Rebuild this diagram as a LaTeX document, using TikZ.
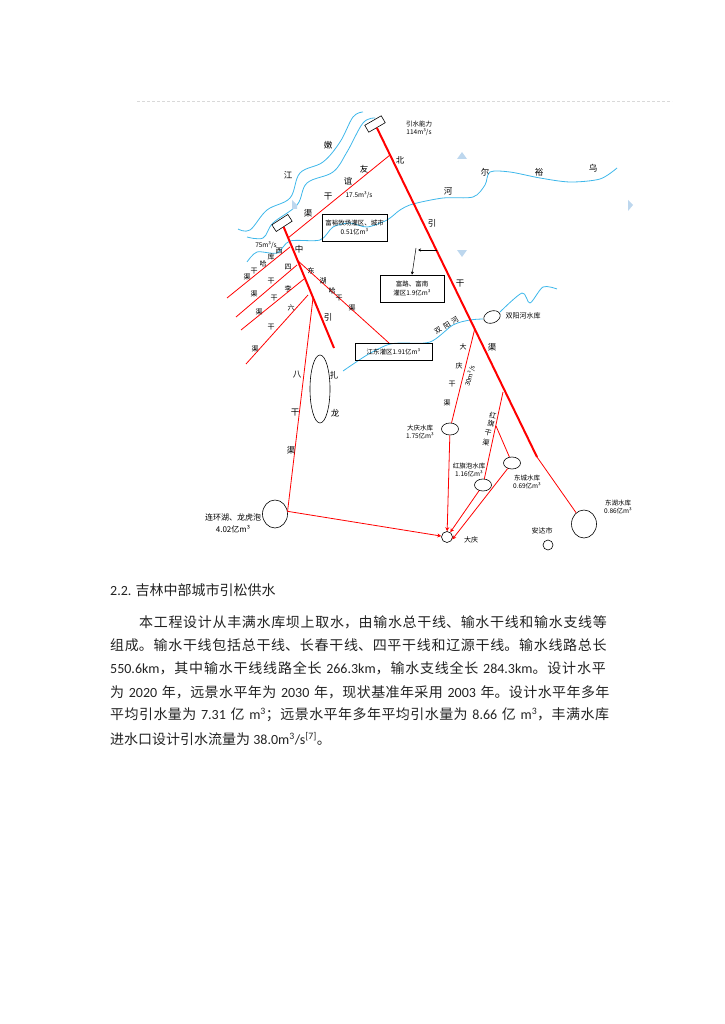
\documentclass[tikz,border=0pt]{standalone}
\usepackage{fontspec}
\setmainfont{Noto Sans CJK SC}
\newfontfamily\latin{Carlito}
\usetikzlibrary{arrows.meta, shapes.geometric}
\XeTeXlinebreaklocale "zh"
\XeTeXlinebreakskip=0pt plus 3pt
\definecolor{canalRed}{HTML}{FF0000}
\definecolor{riverBlue}{HTML}{3DB7EA}
\definecolor{markBlue}{HTML}{BDD7EE}
\definecolor{ruleGray}{HTML}{D9D9D9}
\definecolor{bodyText}{HTML}{222222}
\newcommand{\lat}[1]{{\latin #1}}
\newcommand{\fitline}[1]{\parfillskip=0pt\relax #1\par}
\tikzset{
  canalMain/.style={canalRed, line width=2pt},
  canal/.style={canalRed, line width=0.8pt},
  canalTo/.style={canal, -{Stealth[length=4pt, width=4pt]}},
  river/.style={riverBlue, line width=0.8pt},
  gate/.style={rectangle, draw=black, fill=white, line width=0.6pt, minimum width=19pt, minimum height=8pt, inner sep=0pt},
  pond/.style={ellipse, draw=black, fill=white, line width=0.6pt, inner sep=0pt},
  infoBox/.style={rectangle, draw=black, fill=none, line width=0.7pt, align=center, font=\fontsize{6.5}{8}\selectfont, inner sep=0pt},
  bigLab/.style={font=\fontsize{8.5}{9}\selectfont, inner sep=0pt},
  smallLab/.style={font=\fontsize{6.5}{8}\selectfont, inner sep=0pt, align=center},
  charLab/.style={font=\fontsize{7}{8}\selectfont, inner sep=0pt},
  markTri/.style={fill=markBlue, draw=none},
  bodyLine/.style={anchor=west, inner sep=0pt, font=\fontsize{14}{16}\selectfont, text=bodyText},
}
\begin{document}
\begin{tikzpicture}[x=1pt, y=-1pt]
  \useasboundingbox (0,0) rectangle (724,1024);
  \draw[ruleGray, densely dashed, line width=0.4pt] (137,101) -- (672,101);
  % rivers
  \draw[river] plot[smooth, tension=0.6] coordinates {(363,112) (353,117) (340,142) (323,162) (300,173) (290,198) (267,210) (250,230) (238,229)};
  \draw[river] plot[smooth, tension=0.6] coordinates {(375,118) (363,123) (347,152) (333,172) (307,183) (297,205) (273,223) (263,238) (247,237)};
  \draw[river] plot[smooth, tension=0.5] coordinates {(617,168) (600,179) (570,182) (540,178) (510,172) (490,172) (485,185) (473,197) (443,198) (413,204) (400,210) (387,220) (367,227) (350,223) (333,227) (320,240) (290,241) (277,253) (257,252) (247,262)};
  \draw[river] plot[smooth, tension=0.5] coordinates {(557,289) (543,287) (530,303) (522,293) (500,312)};
  \draw[river] plot[smooth, tension=0.5] coordinates {(483,319) (470,320) (453,325) (430,342) (400,343) (387,345) (367,355) (343,371)};
  % direction marks
  \fill[markTri] (462,152) -- (467,159) -- (457,159) -- cycle;
  \fill[markTri] (462,257) -- (467,250) -- (457,250) -- cycle;
  \fill[markTri] (633,205) -- (628,200) -- (628,211) -- cycle;
  \fill[markTri] (292,200) -- (297,205) -- (297,209) -- (292,209) -- cycle;
  % reservoirs and gates
  \node[gate, rotate=30] (gateN) at (375,124) {};
  \node[gate, rotate=33] (gateS) at (282,223) {};
  \node[pond, minimum width=20pt, minimum height=68pt] (zhalong) at (320,389) {};
  \node[pond, minimum width=25pt, minimum height=28pt] (lianhuan) at (275,514) {};
  \node[pond, minimum width=17pt, minimum height=12pt, rotate=20] (shuangyang) at (492,317) {};
  \node[pond, minimum width=17pt, minimum height=12pt] (dqres) at (450,429) {};
  \node[pond, minimum width=17pt, minimum height=12pt] (hqres) at (483,485) {};
  \node[pond, minimum width=17pt, minimum height=12pt] (dcres) at (512,463) {};
  \node[pond, minimum width=25pt, minimum height=28pt] (dhres) at (584,524) {};
  \node[pond, minimum width=11pt, minimum height=11pt] (daqing) at (447,537) {};
  \node[pond, minimum width=10pt, minimum height=10pt] (anda) at (548,545) {};
  % junctions
  \coordinate (nSplit) at (537,457);
  \coordinate (zEnd) at (334,348);
  \coordinate (yyTop) at (390,155);
  \coordinate (yyEnd) at (288,238);
  \coordinate (xTop) at (290,247);  \coordinate (xEnd) at (227,298);
  \coordinate (sTop) at (297,265);  \coordinate (sEnd) at (236,317);
  \coordinate (lTop) at (304,279);  \coordinate (lEnd) at (241,330);
  \coordinate (kTop) at (308,295);  \coordinate (kEnd) at (246,364);
  \coordinate (dTop) at (297,260);  \coordinate (dEnd) at (389,343);
  \coordinate (bTop) at (313,298);
  \coordinate (dqTop) at (475,328);
  \coordinate (hqTop) at (503,392);
  \coordinate (hqFork) at (496,426);
  \coordinate (fuBr) at (437,250);
  \coordinate (fuTop) at (416,248);
  % canals
  \draw[canalMain] (gateN) -- (nSplit);
  \draw[canalMain] (gateS) -- (zEnd);
  \draw[canal] (nSplit) -- (dhres);
  \draw[canal] (yyTop) -- (yyEnd);
  \draw[canal] (xTop) -- (xEnd);
  \draw[canal] (sTop) -- (sEnd);
  \draw[canal] (lTop) -- (lEnd);
  \draw[canal] (kTop) -- (kEnd);
  \draw[canal] (dTop) -- (dEnd);
  \draw[canal] (bTop) -- (lianhuan.12);
  \draw[canal] (dqTop) -- (dqres);
  \draw[canal] (hqTop) -- (hqres);
  \draw[canal] (hqFork) -- (dcres);
  \draw[canalTo] (lianhuan.12) -- (daqing);
  \draw[canalTo] (dqres) -- (daqing);
  \draw[canalTo] (hqres) -- (daqing);
  \draw[canalTo] (dcres) -- (daqing.-25);
  % benefit areas
  \node[infoBox, minimum width=65pt, minimum height=27pt] (boxFu) at (354.5,227.5) {富裕牧场灌区、城市\\[1pt]0.51亿m³};
  \node[infoBox, minimum width=64pt, minimum height=27pt] (boxLu) at (412,288.5) {富路、富南\\[1pt]灌区1.9亿m³};
  \node[infoBox, minimum width=77pt, minimum height=17pt] (boxJd) at (393.5,351.5) {江东灌区1.91亿m³};
  \draw[-{Stealth[length=3pt, width=3pt]}, line width=0.5pt] (fuBr) -- (418,250);
  \draw[-{Stealth[length=3pt, width=3pt]}, line width=0.5pt] (fuTop) -- (boxLu.north);
  % big labels
  \foreach \px/\py/\txt in {328/145/嫩, 288/175/江, 364/169/友, 348/181/谊, 328/197/干, 308/213/渠,
      400/160/北, 448/191/河, 485/172/尔, 539/172/裕, 593/168/乌, 432/223/引, 460/284/干, 492/347/渠,
      299/249/中, 328/317/引, 297/375/八, 295/413/干, 291/450/渠, 334/375/扎, 335/413/龙}
    \node[bigLab] (big\px) at (\px,\py) {\txt};
  % small labels
  \foreach \px/\py/\txt in {279/251/西, 271/257/库, 263/264/哈, 254/271/干, 247/277/渠,
      288/267/四, 271/281/干, 254/294/渠, 288/289/李, 274/298/干, 259/312/渠,
      291/308/六, 271/327/干, 255/349/渠, 311/271/东, 323/281/湖, 332/291/哈, 339/298/干, 352/308/渠,
      463/347/大, 459/366/庆, 452/384/干, 447/403/渠, 471/540/大庆, 542/531/安达市, 523/316/双阳河水库}
    \node[charLab] (lab\px) at (\px,\py) {\txt};
  \foreach \px/\py/\txt in {438/331/双, 447/325/阳, 455/320/河}
    \node[charLab, rotate=33] (sy\px) at (\px,\py) {\txt};
  \foreach \px/\py/\txt in {493/415/红, 491/424/旗, 488/433/干, 486/443/渠}
    \node[charLab, rotate=-12] (hg\py) at (\px,\py) {\txt};
  \node[smallLab] (rateZ) at (266,245) {75m³/s};
  \node[smallLab] (rateY) at (359,195) {17.5m³/s};
  \node[smallLab, rotate=75] (rateD) at (470,376) {30m³/s};
  \node[smallLab] (cap) at (419,128) {引水能力\\114m³/s};
  \node[smallLab] (capDq) at (420,432) {大庆水库\\1.75亿m³};
  \node[smallLab] (capHq) at (469,470) {红旗泡水库\\1.16亿m³};
  \node[smallLab] (capDc) at (527,482) {东城水库\\0.69亿m³};
  \node[smallLab] (capDh) at (618,507) {东湖水库\\0.86亿m³};
  \node[smallLab, font=\fontsize{8}{12}\selectfont] (capLh) at (233,523.5) {连环湖、龙虎泡\\4.02亿m³};
  % text below
  \node[bodyLine] (head) at (110,590) {\lat{2.2.} 吉林中部城市引松供水};
  \node[bodyLine, text width=474pt] (ln1) at (139,622) {\fitline{本工程设计从丰满水库坝上取水，由输水总干线、输水干线和输水支线等}};
  \node[bodyLine, text width=503pt] (ln2) at (110,645) {\fitline{组成。输水干线包括总干线、长春干线、四平干线和辽源干线。输水线路总长}};
  \node[bodyLine, text width=503pt] (ln3) at (110,668) {\fitline{\lat{550.6km}，其中输水干线线路全长 \lat{266.3km}，输水支线全长 \lat{284.3km}。设计水平}};
  \node[bodyLine, text width=503pt] (ln4) at (110,692) {\fitline{为 \lat{2020} 年，远景水平年为 \lat{2030} 年，现状基准年采用 \lat{2003} 年。设计水平年多年}};
  \node[bodyLine, text width=503pt] (ln5) at (110,715) {\fitline{平均引水量为 \lat{7.31} 亿 \lat{m\textsuperscript{3}}；远景水平年多年平均引水量为 \lat{8.66} 亿 \lat{m\textsuperscript{3}}，丰满水库}};
  \node[bodyLine] (ln6) at (110,739) {进水口设计引水流量为 \lat{38.0m\textsuperscript{3}/s\textsuperscript{[7]}}。};
\end{tikzpicture}
\end{document}
